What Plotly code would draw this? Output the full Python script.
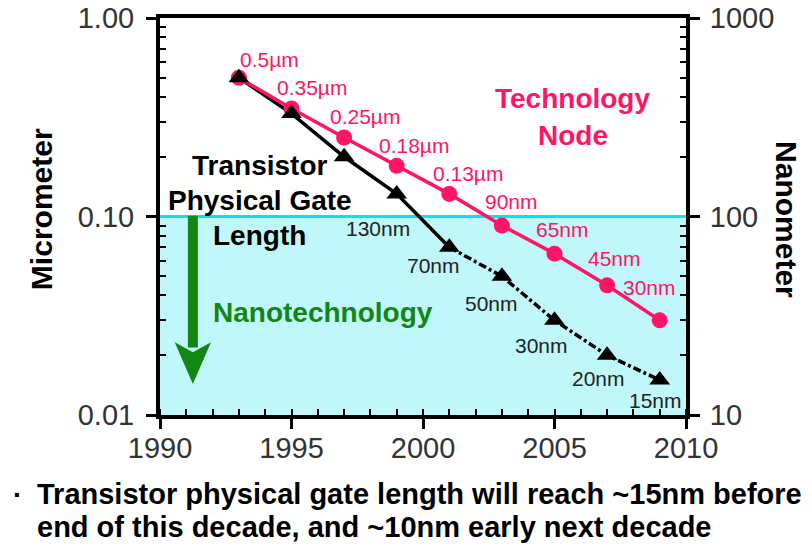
import math
import plotly.graph_objects as go

# ---- data -------------------------------------------------------------
years = [1993, 1995, 1997, 1999, 2001, 2003, 2005, 2007, 2009]
node_um = [0.5, 0.35, 0.25, 0.18, 0.13, 0.09, 0.065, 0.045, 0.030]
node_labels = ["0.5µm", "0.35µm", "0.25µm", "0.18µm", "0.13µm",
               "90nm", "65nm", "45nm", "30nm"]
gate_um = [0.5, 0.33, 0.2, 0.13, 0.07, 0.05, 0.03, 0.02, 0.015]
gate_labels = [None, None, None, "130nm", "70nm", "50nm", "30nm", "20nm", "15nm"]
nano_threshold = 0.1

x_ticks = [1990, 1995, 2000, 2005, 2010]
y_ticks = [0.01, 0.1, 1.0]
y_ticktext = ["0.01", "0.10", "1.00"]
y2_ticks = [10, 100, 1000]
y2_ticktext = ["10", "100", "1000"]

# ---- styling ----------------------------------------------------------
FONT = "Liberation Sans, Arial, sans-serif"
PINK = "#ff1466"
GREEN = "#128612"
SHADE = "#c0f7fa"
CYAN = "#00e6f0"

# pixel offsets (dx right, dy down) of the point labels from their markers
node_offsets = [(31, -18), (20, -21), (21, -21), (17, -20), (19, -20),
                (10, -24), (8, -24), (7, -27), (-10, -33)]
gate_offsets = [None, None, None, (-19, 35), (-16, 18), (-10, 27),
                (-13, 25), (-9, 23), (-4, 20)]

log_minor = [m * 10 ** e for e in (-2, -1) for m in range(2, 10)]
log_minor_nm = [v * 1000 for v in log_minor]

fig = go.Figure()

# gate length: solid through 2001, dashed afterwards
split = years.index(2001) + 1
fig.add_trace(go.Scatter(
    x=years[:split], y=gate_um[:split], mode="lines",
    line=dict(color="black", width=3.5), hoverinfo="skip", showlegend=False))
fig.add_trace(go.Scatter(
    x=years[split - 1:], y=gate_um[split - 1:], mode="lines",
    line=dict(color="black", width=3.5, dash="8px,3px,3px,3px"),
    hoverinfo="skip", showlegend=False))

# technology node line
fig.add_trace(go.Scatter(
    x=years, y=node_um, mode="lines+markers",
    line=dict(color=PINK, width=3.5),
    marker=dict(symbol="circle", size=16, color=PINK),
    showlegend=False))

# gate length markers on top
fig.add_trace(go.Scatter(
    x=years, y=gate_um, mode="markers",
    marker=dict(symbol="triangle-up", size=18, color="black"),
    showlegend=False))

# same node values in nanometres on the right-hand axis
fig.add_trace(go.Scatter(
    x=years, y=[v * 1000 for v in node_um], yaxis="y2", mode="markers",
    marker=dict(size=1, opacity=0), hoverinfo="skip", showlegend=False))

shapes = [
    # nanotechnology band
    dict(type="rect", xref="x", yref="y", x0=x_ticks[0], x1=x_ticks[-1],
         y0=y_ticks[0], y1=nano_threshold, fillcolor=SHADE,
         line=dict(width=0), layer="below"),
    dict(type="line", xref="x", yref="y", x0=x_ticks[0], x1=x_ticks[-1],
         y0=nano_threshold, y1=nano_threshold,
         line=dict(color=CYAN, width=3), layer="below"),
    # green arrow: shaft and head
    dict(type="rect", xref="paper", yref="paper", x0=0.053, x1=0.072,
         y0=0.17, y1=0.502, fillcolor=GREEN, line=dict(width=0)),
    dict(type="path", xref="paper", yref="paper",
         path="M 0.028 0.183 L 0.0625 0.158 L 0.097 0.183 L 0.0625 0.078 Z",
         fillcolor=GREEN, line=dict(width=0)),
]

annotations = []


def text(x, y, s, size, color="black", bold=False, angle=0,
         xanchor="center", xref="paper", yref="paper", xshift=0, yshift=0):
    annotations.append(dict(
        x=x, y=y, xref=xref, yref=yref, text=s, showarrow=False,
        xanchor=xanchor, yanchor="middle", textangle=angle,
        xshift=xshift, yshift=yshift,
        font=dict(family=FONT, size=size, color=color,
                  weight="bold" if bold else "normal")))


for yr, v, lab, (dx, dy) in zip(years, node_um, node_labels, node_offsets):
    text(yr, math.log10(v), lab, 21, PINK, xref="x", yref="y",
         xshift=dx, yshift=-dy)
for yr, v, lab, off in zip(years, gate_um, gate_labels, gate_offsets):
    if lab is None:
        continue
    text(yr, math.log10(v), lab, 21, "#222222", xref="x", yref="y",
         xshift=off[0], yshift=-off[1])

text(0.190, 0.628, "Transistor", 28, bold=True)
text(0.190, 0.541, "Physical Gate", 28, bold=True)
text(0.190, 0.453, "Length", 28, bold=True)
text(0.785, 0.796, "Technology", 28, PINK, bold=True)
text(0.785, 0.703, "Node", 28, PINK, bold=True)
text(0.310, 0.257, "Nanotechnology", 28, GREEN, bold=True)

text(-0.224, 0.519, "Micrometer", 30, bold=True, angle=-90)
text(1.192, 0.491, "Nanometer", 30, bold=True, angle=90)

text(-0.283, -0.200, "·", 28, bold=True, xanchor="left")
text(-0.238, -0.200, "Transistor physical gate length will reach ~15nm before",
     29, bold=True, xanchor="left")
text(-0.238, -0.282, "end of this decade, and ~10nm early next decade",
     29, bold=True, xanchor="left")

tickfont = dict(family=FONT, size=29, color="#333333")
common = dict(ticks="outside", ticklen=10, tickwidth=3, tickcolor="black",
              showline=True, linecolor="black", linewidth=4,
              showgrid=False, zeroline=False, tickfont=tickfont,
              automargin=False)

fig.update_layout(
    width=812, height=552,
    margin=dict(l=160, r=126, t=18, b=137, autoexpand=False),
    paper_bgcolor="white", plot_bgcolor="white",
    shapes=shapes, annotations=annotations,
    xaxis=dict(
        range=[x_ticks[0], x_ticks[-1]], tickvals=x_ticks, mirror=True,
        minor=dict(dtick=1, ticks="inside", ticklen=6, tickwidth=2,
                   tickcolor="black", showgrid=False),
        ticklabelstandoff=-6, **common),
    yaxis=dict(
        type="log", range=[-2, 0], tickvals=y_ticks, ticktext=y_ticktext,
        minor=dict(tickmode="array", tickvals=log_minor, ticks="inside",
                   ticklen=6, tickwidth=2, tickcolor="black", showgrid=False),
        ticklabelstandoff=6, **common),
    yaxis2=dict(
        type="log", range=[1, 3], overlaying="y", side="right",
        tickvals=y2_ticks, ticktext=y2_ticktext,
        minor=dict(tickmode="array", tickvals=log_minor_nm, ticks="inside",
                   ticklen=6, tickwidth=2, tickcolor="black", showgrid=False),
        ticklabelstandoff=4, **common),
)

fig.write_html("out.html")
